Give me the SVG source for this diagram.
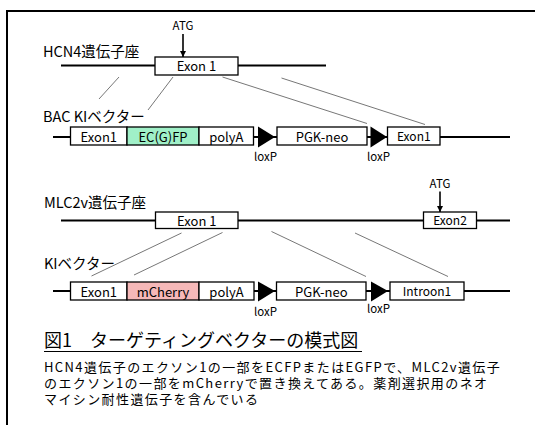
<svg xmlns="http://www.w3.org/2000/svg" width="535" height="425" viewBox="0 0 535 425">
<style>
text{font-family:"Noto Sans CJK JP","Noto Sans",sans-serif;fill:#000}
.lbl{font-size:14.5px}
.bx{font-size:13px;text-anchor:middle}
.sm{font-size:12px;text-anchor:middle}
.tiny{font-size:11.5px;text-anchor:middle}
.body{font-size:13px;letter-spacing:1.4px}
.box{fill:#fff;stroke:#000;stroke-width:1.3}
.bb{stroke:#000;stroke-width:2;fill:none}
.cx{stroke:#777;stroke-width:1;fill:none}
.lox{fill:#000}
.arr{stroke:#000;stroke-width:1.6;fill:none;marker-end:url(#ah)}
</style>
<defs>
<marker id="ah" viewBox="0 0 10 10" refX="10" refY="5" markerWidth="4" markerHeight="4" orient="auto" markerUnits="strokeWidth">
<path d="M0,0 L10,5 L0,10 z" fill="#000"/>
</marker>
</defs>
<rect width="535" height="425" fill="#fff"/>
<path d="M7,426 V11 H536" stroke="#000" stroke-width="2" fill="none"/>

<g id="backbones">
<line class="bb" x1="61" y1="65.5" x2="326" y2="65.5"/>
<line class="bb" x1="53" y1="137" x2="510" y2="137"/>
<line class="bb" x1="61" y1="220.5" x2="510" y2="220.5"/>
<line class="bb" x1="53" y1="291" x2="510" y2="291"/>
</g>

<g id="connectors">
<line class="cx" x1="119" y1="77" x2="99" y2="99"/>
<line class="cx" x1="173" y1="77" x2="148" y2="110"/>
<line class="cx" x1="222.5" y1="77" x2="367" y2="123.5"/>
<line class="cx" x1="281.5" y1="78" x2="425" y2="124.5"/>
<line class="cx" x1="181.5" y1="233" x2="91.5" y2="276"/>
<line class="cx" x1="222.5" y1="232.5" x2="134" y2="275"/>
<line class="cx" x1="271.5" y1="231.5" x2="366" y2="276.5"/>
<line class="cx" x1="355" y1="233" x2="448" y2="276.5"/>
<line class="arr" x1="183" y1="34" x2="183" y2="57"/>
<line class="arr" x1="440" y1="191.5" x2="440" y2="212"/>
</g>

<g id="hcn4-label"><text class="lbl" x="43" y="57">HCN4遺伝子座</text></g>
<g id="hcn4-atg"><text class="tiny" x="183" y="30">ATG</text></g>
<g id="hcn4-exon1"><rect class="box" x="155" y="57" width="83" height="18"/><text class="bx" x="196.5" y="71">Exon 1</text></g>

<g id="bac-label"><text class="lbl" x="43" y="121.5">BAC KIベクター</text></g>
<g id="bac-exon1"><rect class="box" x="70.5" y="127" width="56.5" height="18"/><text class="bx" x="98.8" y="141.5">Exon1</text></g>
<g id="bac-ecgfp"><rect class="box" x="127" y="127" width="72" height="18" style="fill:#a0f0c8"/><text class="bx" x="163" y="141.5">EC(G)FP</text></g>
<g id="bac-polya"><rect class="box" x="199" y="127" width="54.5" height="18"/><text class="bx" x="226.3" y="141.5">polyA</text></g>
<g id="bac-loxp1"><path class="lox" d="M258,126.5 L275,137 L258,147.5 z"/><text class="tiny" x="265.5" y="161">loxP</text></g>
<g id="bac-pgkneo"><rect class="box" x="277" y="127" width="90" height="18"/><text class="bx" x="322" y="141.5">PGK-neo</text></g>
<g id="bac-loxp2"><path class="lox" d="M370.5,126.5 L387,137 L370.5,147.5 z"/><text class="tiny" x="378.5" y="161">loxP</text></g>
<g id="bac-exon1b"><rect class="box" x="387.5" y="127" width="52.5" height="18"/><text class="sm" x="413.8" y="141">Exon1</text></g>

<g id="mlc2v-label"><text class="lbl" x="44" y="208">MLC2v遺伝子座</text></g>
<g id="mlc2v-atg"><text class="tiny" x="440" y="188">ATG</text></g>
<g id="mlc2v-exon1"><rect class="box" x="155.5" y="212" width="82.5" height="16.5"/><text class="bx" x="196.8" y="225.5">Exon 1</text></g>
<g id="mlc2v-exon2"><rect class="box" x="423.5" y="212" width="53" height="16.5"/><text class="sm" x="450" y="225">Exon2</text></g>

<g id="ki-label"><text class="lbl" x="44" y="268.5">KIベクター</text></g>
<g id="ki-exon1"><rect class="box" x="70.5" y="282" width="56.5" height="18"/><text class="bx" x="98.8" y="296.5">Exon1</text></g>
<g id="ki-mcherry"><rect class="box" x="127" y="282" width="72" height="18" style="fill:#f6b8b8"/><text class="bx" x="163" y="296.5">mCherry</text></g>
<g id="ki-polya"><rect class="box" x="199" y="282" width="55" height="18"/><text class="bx" x="226.5" y="296.5">polyA</text></g>
<g id="ki-loxp1"><path class="lox" d="M258,281.5 L275,291 L258,301.5 z"/><text class="tiny" x="265.5" y="316">loxP</text></g>
<g id="ki-pgkneo"><rect class="box" x="276.5" y="282" width="89.5" height="18"/><text class="bx" x="321.3" y="296.5">PGK-neo</text></g>
<g id="ki-loxp2"><path class="lox" d="M371,281.5 L388,291 L371,301.5 z"/><text class="tiny" x="378.5" y="313">loxP</text></g>
<g id="ki-intron1"><rect class="box" x="390" y="282" width="74" height="18"/><text class="sm" x="427" y="296">Introon1</text></g>

<g id="caption">
<text x="44" y="347" style="font-size:18px">図1　ターゲティングベクターの模式図</text>
<line x1="44" y1="351.5" x2="362" y2="351.5" stroke="#000" stroke-width="1.2"/>
<text class="body" x="44" y="372">HCN4遺伝子のエクソン1の一部をECFPまたはEGFPで、MLC2v遺伝子</text>
<text class="body" x="44" y="388">のエクソン1の一部をmCherryで置き換えてある。薬剤選択用のネオ</text>
<text class="body" x="44" y="404">マイシン耐性遺伝子を含んでいる</text>
</g>
</svg>
